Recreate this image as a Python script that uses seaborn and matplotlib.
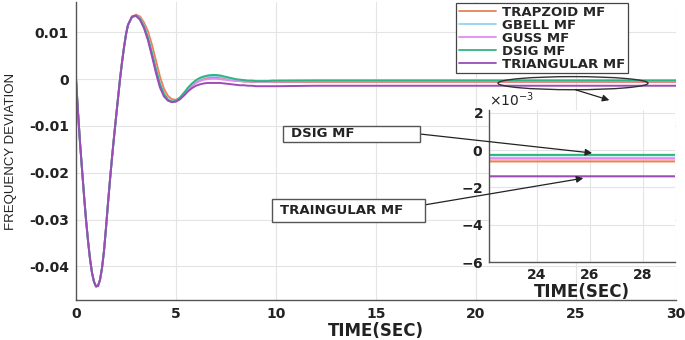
import matplotlib
matplotlib.use('Agg')
import matplotlib.pyplot as plt
from matplotlib.lines import Line2D
from matplotlib.patches import Ellipse, Rectangle, FancyArrowPatch
from matplotlib.ticker import ScalarFormatter
import seaborn as sns
import pandas as pd

# time axis (s)
time_s = [0.0, 0.1, 0.2, 0.3, 0.4, 0.5, 0.6, 0.7, 0.8, 0.9, 1.0, 1.1, 1.2, 1.3,
          1.4, 1.5, 1.6, 1.7, 1.8, 1.9, 2.0, 2.1, 2.2, 2.3, 2.4, 2.5, 2.6,
          2.8, 3.0, 3.2, 3.4, 3.6, 3.8, 4.0, 4.2, 4.4, 4.6, 4.8, 5.0, 5.2, 5.4,
          5.6, 5.8, 6.0, 6.2, 6.4, 6.6, 6.8, 7.0, 7.2, 7.4, 7.6, 7.8, 8.0, 8.2,
          8.4, 8.6, 8.8, 9.0, 9.2, 9.4, 9.6, 9.8, 10.0,
          12, 14, 16, 18, 20, 22, 24, 26, 28, 30]

# first swing is the same for all controllers (t = 0 .. 2.6)
early = [0.0, -0.0070, -0.0135, -0.0192, -0.0248, -0.0300, -0.0345, -0.0384,
         -0.0414, -0.0433, -0.0443, -0.0442, -0.0429, -0.0404, -0.0367, -0.0318,
         -0.0265, -0.0215, -0.0168, -0.0124, -0.0082, -0.0041, 0.0000, 0.0036,
         0.0068, 0.0096, 0.0116]

trapzoid = early + [0.0133, 0.0138, 0.0134, 0.0121, 0.0102, 0.0073, 0.0039,
                    0.0005, -0.0021, -0.0036, -0.0043, -0.0044, -0.0040, -0.0032, -0.0023, -0.0014, -0.0007,
                    -0.0002, 0.0001, 0.0003, 0.0004, 0.0004, 0.0004, 0.0002, 0.0000, -0.0002, -0.0003,
                    -0.0004, -0.0005, -0.0005, -0.0006, -0.0006, -0.0006, -0.0006, -0.0006, -0.0006, -0.0006,
                    -0.0006, -0.0006, -0.0006, -0.0006, -0.0006, -0.0006, -0.0006, -0.0006, -0.0006, -0.0006]
gbell = early + [0.0133, 0.0136, 0.0130, 0.0115, 0.0091, 0.0058, 0.0023,
                 -0.0009, -0.0031, -0.0043, -0.0048, -0.0046, -0.0040, -0.0030, -0.0020, -0.0011, -0.0004,
                 0.0001, 0.0004, 0.0006, 0.0007, 0.0007, 0.0006, 0.0004, 0.0002, 0.0000, -0.0001,
                 -0.0002, -0.0003, -0.0004, -0.0004, -0.0005, -0.0005, -0.0005, -0.0005, -0.0004, -0.0004,
                 -0.0004, -0.0004, -0.0004, -0.0004, -0.0004, -0.0004, -0.0004, -0.0004, -0.0004, -0.0004]
guss = early + [0.0134, 0.0136, 0.0128, 0.0111, 0.0086, 0.0052, 0.0016,
                -0.0015, -0.0035, -0.0045, -0.0049, -0.0047, -0.0041, -0.0032, -0.0023, -0.0014, -0.0008,
                -0.0004, -0.0001, 0.0000, 0.0001, 0.0001, 0.0000, -0.0001, -0.0002, -0.0003, -0.0004,
                -0.0004, -0.0005, -0.0005, -0.0005, -0.0005, -0.0005, -0.0005, -0.0005, -0.0005, -0.0005,
                -0.00045, -0.00045, -0.00045, -0.00045, -0.00045, -0.00045, -0.00045, -0.00045, -0.00045, -0.00045]
dsig = early + [0.0133, 0.0135, 0.0129, 0.0113, 0.0088, 0.0055, 0.0020,
                -0.0011, -0.0032, -0.0044, -0.0048, -0.0046, -0.0039, -0.0029, -0.0018, -0.0009, -0.0002,
                0.0003, 0.0006, 0.0008, 0.0009, 0.0009, 0.0008, 0.0006, 0.0004, 0.0002, 0.0000,
                -0.0001, -0.0002, -0.0003, -0.0003, -0.0004, -0.0004, -0.0004, -0.0004, -0.0003, -0.0003,
                -0.00025, -0.00025, -0.00025, -0.00025, -0.00025, -0.00025, -0.00025, -0.00025, -0.00025, -0.00025]
triangular = early + [0.0134, 0.0136, 0.0127, 0.0109, 0.0083, 0.0049, 0.0013,
                      -0.0018, -0.0037, -0.0046, -0.0049, -0.0048, -0.0043, -0.0035, -0.0026, -0.0019, -0.0014,
                      -0.0011, -0.0009, -0.0008, -0.0008, -0.0008, -0.0008, -0.0009, -0.0010, -0.0011, -0.0012,
                      -0.0013, -0.0013, -0.0014, -0.0014, -0.0015, -0.0015, -0.0015, -0.0015, -0.0015, -0.0015,
                      -0.0014, -0.0014, -0.0014, -0.0014, -0.0014, -0.0014, -0.0014, -0.0014, -0.0014, -0.0014]

names = ['TRAPZOID MF', 'GBELL MF', 'GUSS MF', 'DSIG MF', 'TRIANGULAR MF']
colors = ['#ef7f57', '#92d4ef', '#e08cf2', '#2fb482', '#9b4cb6']

main_yticks = [-0.04, -0.03, -0.02, -0.01, 0, 0.01]
main_ylabels = ['-0.04', '-0.03', '-0.02', '-0.01', '0', '0.01']
inset_yticks = [-0.006, -0.004, -0.002, 0, 0.002]

rows = []
for name, vals in zip(names, [trapzoid, gbell, guss, dsig, triangular]):
    for t, v in zip(time_s, vals):
        rows.append({'t': t, 'dev': v, 'mf': name})
df = pd.DataFrame(rows)
palette = dict(zip(names, colors))

sns.set_style('white')
plt.rcParams['font.family'] = ['DejaVu Sans']
plt.rcParams['axes.unicode_minus'] = False

fig = plt.figure(figsize=(6.85, 3.4), dpi=100)
ax = fig.add_axes([76 / 685, 40 / 340, 600 / 685, 298 / 340])

sns.lineplot(data=df, x='t', y='dev', hue='mf', hue_order=names, palette=palette,
             estimator=None, sort=False, linewidth=1.4, legend=False, ax=ax)
ax.set_xlim(0, 30)
ax.set_ylim(-0.0472, 0.0165)
ax.set_xticks([0, 5, 10, 15, 20, 25, 30])
ax.set_yticks(main_yticks, main_ylabels)
ax.grid(True, color='#e4e4e4', linewidth=0.8)
for s in ['top', 'right']:
    ax.spines[s].set_visible(False)
for s in ['left', 'bottom']:
    ax.spines[s].set_color('#555555')
    ax.spines[s].set_linewidth(1.0)
ax.tick_params(length=0, labelsize=10, pad=5, colors='#222222')
for lab in ax.get_xticklabels() + ax.get_yticklabels():
    lab.set_fontweight('bold')
ax.set_xlabel('TIME(SEC)', fontsize=12, fontweight='bold', color='#222222')
ax.xaxis.set_label_coords(0.5, -0.075)
ax.set_ylabel('FREQUENCY DEVIATION', fontsize=9.5, family=['Liberation Sans', 'DejaVu Sans'],
              color='#222222')
ax.yaxis.set_label_coords(-0.098, 0.5)

handles = [Line2D([], [], color=c, linewidth=1.3) for c in colors]
leg = ax.legend(handles, names, loc='upper right', bbox_to_anchor=(628 / 685, 337 / 340),
                bbox_transform=fig.transFigure, fancybox=False, framealpha=1,
                edgecolor='#444444', prop={'weight': 'bold', 'size': 9.5},
                labelspacing=0.0, handlelength=2.8, handletextpad=0.5, borderpad=0.2,
                borderaxespad=0)
leg.get_frame().set_linewidth(0.9)

# marked region and arrow to the zoom
ax.add_patch(Ellipse((24.85, -0.00085), 7.5, 0.0028, fill=False, edgecolor='#333333',
                     linewidth=1.0, zorder=5))
fig.add_artist(FancyArrowPatch(
    (573 / 685, 1 - 89 / 340), (612 / 685, 1 - 101 / 340), transform=fig.transFigure,
    arrowstyle='-|>', mutation_scale=10, color='#222222', linewidth=0.9))

# zoomed inset
axi = fig.add_axes([489 / 685, 78 / 340, 186 / 685, 152 / 340])
sns.lineplot(data=df, x='t', y='dev', hue='mf', hue_order=names, palette=palette,
             estimator=None, sort=False, linewidth=1.5, legend=False, ax=axi)
axi.set_facecolor('white')
axi.set_xlim(22.2, 29.2)
axi.set_ylim(-0.006, 0.00216)
axi.set_xticks([24, 26, 28])
axi.set_yticks(inset_yticks)
fmt = ScalarFormatter(useMathText=True)
fmt.set_powerlimits((-2, 2))
axi.yaxis.set_major_formatter(fmt)
axi.grid(True, color='#e4e4e4', linewidth=0.8)
for s in ['top', 'right']:
    axi.spines[s].set_visible(False)
for s in ['left', 'bottom']:
    axi.spines[s].set_color('#555555')
    axi.spines[s].set_linewidth(1.0)
axi.tick_params(length=0, labelsize=10, pad=4, colors='#222222')
for lab in axi.get_xticklabels() + axi.get_yticklabels():
    lab.set_fontweight('bold')
axi.yaxis.get_offset_text().set_fontsize(10)
axi.set_xlabel('TIME(SEC)', fontsize=12, fontweight='bold', color='#222222', labelpad=1)
axi.set_ylabel('')

# callout boxes
box_specs = [
    ('DSIG MF', (283, 126, 137, 16), 291, (26.08, -0.00015), (420, 134)),
    ('TRAINGULAR MF', (272, 199, 153, 23), 280, (25.75, -0.0015), (424, 205)),
]
for text, (bx, by, bw, bh), tx, target, start in box_specs:
    fig.add_artist(Rectangle((bx / 685, 1 - (by + bh) / 340), bw / 685, bh / 340,
                             transform=fig.transFigure, facecolor='white',
                             edgecolor='#555555', linewidth=1.0, zorder=6))
    fig.text(tx / 685, 1 - (by + bh / 2) / 340, text, fontsize=9.5, fontweight='bold',
             va='center', ha='left', color='#222222', zorder=7)
    axi.annotate('', xy=target, xycoords='data',
                 xytext=(start[0] / 685, 1 - start[1] / 340), textcoords='figure fraction',
                 arrowprops=dict(arrowstyle='-|>', mutation_scale=10, color='#222222',
                                 linewidth=0.9, shrinkA=0, shrinkB=0),
                 annotation_clip=False, zorder=8)

fig.savefig('out.png', dpi=100)
